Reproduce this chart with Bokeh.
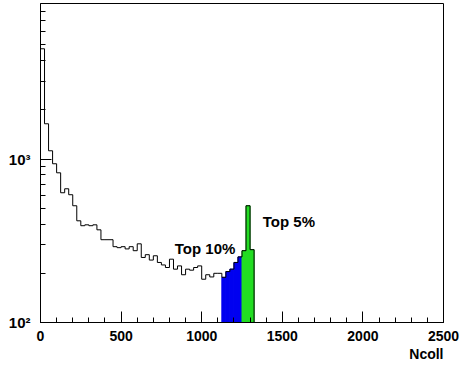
import numpy as np
from bokeh.plotting import figure
from bokeh.models import Range1d, SingleIntervalTicker, FixedTicker, Label, Title
from bokeh.embed import file_html
from bokeh.resources import INLINE

# ---- data ----
bin_width = 25
counts = [4730, 1644, 1124, 936, 824, 622, 658, 605, 518, 419,
          391, 396, 391, 396, 369, 321, 321, 321, 291, 287,
          291, 282, 291, 275, 303, 250, 260, 241, 256, 233,
          225, 217, 244, 212, 222, 196, 212, 209, 217, 222,
          184, 196, 190, 200, 200, 189, 205, 212, 233, 252,
          275, 518, 279]
top10_bins = [45, 46, 47, 48, 49]
top5_bins = [50, 51, 52]
x_label = "Ncoll"
y_major_ticks = [100, 1000]
y_tick_labels = {100: "10\u00b2", 1000: "10\u00b3"}
label_top10 = "Top 10%"
label_top5 = "Top 5%"

x_start, x_end = 0, 2500
y_start, y_end = 100, 8950

edges = np.arange(len(counts) + 1) * bin_width
counts_arr = np.array(counts, dtype=float)
y_minor_ticks = [m * d for d in y_major_ticks for m in range(2, 10)]

FONT = "Liberation Sans"
BLUE = "#0000f0"
GREEN = "#22dd22"

p = figure(width=463, height=366, output_backend="svg", toolbar_location=None,
           y_axis_type="log",
           x_range=Range1d(x_start, x_end), y_range=Range1d(y_start, y_end),
           min_border_left=40, min_border_right=20, min_border_top=3,
           min_border_bottom=44)
p.background_fill_color = "white"
p.border_fill_color = "white"
p.outline_line_color = "black"
p.outline_line_width = 1
p.xgrid.visible = False
p.ygrid.visible = False

# filled regions
b = np.array(top10_bins)
p.quad(left=edges[b], right=edges[b + 1], top=counts_arr[b], bottom=y_start,
       fill_color=BLUE, line_color=BLUE, line_width=1)
g = np.array(top5_bins)
p.quad(left=edges[g], right=edges[g + 1], top=counts_arr[g], bottom=y_start,
       fill_color=GREEN, line_color=GREEN, line_width=1)

# histogram outline
step_y = np.append(counts_arr, y_start / 10.0)
p.step(x=edges, y=step_y, mode="after", line_color="black", line_width=1)

# axes
xa = p.xaxis[0]
xa.ticker = SingleIntervalTicker(interval=500, num_minor_ticks=5)
ya = p.yaxis[0]
ya.ticker = FixedTicker(ticks=y_major_ticks, minor_ticks=y_minor_ticks)
ya.major_label_overrides = y_tick_labels
for ax in (xa, ya):
    ax.major_tick_in = 11
    ax.major_tick_out = 0
    ax.minor_tick_in = 5
    ax.minor_tick_out = 0
    ax.axis_line_color = "black"
    ax.major_tick_line_color = "black"
    ax.minor_tick_line_color = "black"
    ax.major_label_text_font = FONT
    ax.major_label_text_font_style = "bold"
    ax.major_label_text_font_size = "14px"
    ax.major_label_text_color = "black"
xa.major_label_standoff = 8
ya.major_label_standoff = 10
ya.major_label_text_font_size = "15px"

p.add_layout(Title(text=x_label, align="right", text_font=FONT,
                   text_font_style="bold", text_font_size="14px",
                   text_color="black", standoff=0, offset=0), "below")

p.add_layout(Label(x=833, y=285, text=label_top10, text_align="left",
                   text_baseline="alphabetic", text_font=FONT,
                   text_font_style="bold", text_font_size="15px",
                   text_color="black"))
p.add_layout(Label(x=1379, y=413, text=label_top5, text_align="left",
                   text_baseline="alphabetic", text_font=FONT,
                   text_font_style="bold", text_font_size="15px",
                   text_color="black"))

open("out.html", "w").write(file_html(p, INLINE))
